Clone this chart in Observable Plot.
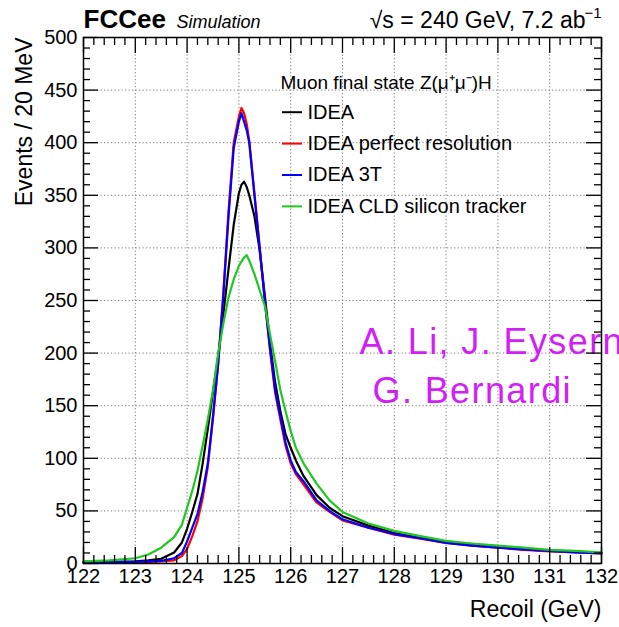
<!DOCTYPE html>
<html><head><meta charset="utf-8">
<script src="https://cdn.jsdelivr.net/npm/d3@7"></script>
<script src="https://cdn.jsdelivr.net/npm/@observablehq/plot@0.6"></script>
<style>
html,body{margin:0;padding:0;background:#fff;overflow:hidden;}
</style></head><body><div id="chart"></div>
<script>
// Recoil mass (GeV) sample points
const recoil = [122.0, 122.5, 123.0, 123.25, 123.5, 123.75, 123.9, 124.0, 124.1, 124.2, 124.3, 124.4, 124.5, 124.6, 124.7, 124.8, 124.9, 125.0, 125.05, 125.1, 125.15, 125.2, 125.3, 125.4, 125.5, 125.6, 125.7, 125.8, 125.9, 126.0, 126.1, 126.25, 126.5, 126.75, 127.0, 127.5, 128.0, 128.5, 129.0, 129.5, 130.0, 130.5, 131.0, 131.5, 132.0];
// Events / 20 MeV
const idea = [1.5, 1.5, 2, 3, 4.5, 10.5, 20, 33, 49, 66, 95, 128, 163, 197, 237, 280, 322, 352, 360, 363, 358, 350, 330, 298, 255, 210, 172, 145, 123, 110, 98, 83, 65, 53, 45, 36, 29, 24.5, 20, 17.5, 15.5, 13.5, 12, 11, 10];
const ideaPerfect = [0.5, 0.5, 1, 1.5, 2, 3, 7, 14, 26, 40, 62, 92, 138, 190, 258, 335, 400, 425, 433, 428, 418, 402, 352, 302, 250, 203, 162, 137, 112, 95, 85, 75, 58, 49, 41, 34, 27.5, 23.5, 19.5, 17, 15, 13, 11.5, 10.5, 9.5];
const idea3T = [1, 1, 1.5, 2, 2.5, 5, 10, 21, 34, 47, 68, 95, 140, 190, 255, 330, 395, 420, 428, 420, 412, 400, 350, 300, 250, 205, 165, 140, 115, 98, 87, 78, 60, 50, 42, 34, 28, 24, 19.5, 17, 15, 13.5, 12, 10.5, 9.5];
const ideaCLD = [2, 3, 5, 8.5, 15, 25, 37, 53, 69, 88, 112, 137, 165, 200, 228, 253, 270, 283, 287, 291, 293, 288, 275, 260, 245, 218, 192, 165, 145, 126, 110, 95, 76, 60, 49, 38, 31, 26, 21.5, 19, 17, 15, 13, 12, 10.5];

const seriesNames = ["IDEA", "IDEA perfect resolution", "IDEA 3T", "IDEA CLD silicon tracker"];
const seriesValues = [idea, ideaPerfect, idea3T, ideaCLD];
const seriesColors = ["#000000", "#ff0000", "#0000ff", "#1ec81e"];

const xTickLabels = [122, 123, 124, 125, 126, 127, 128, 129, 130, 131, 132];
const yTickLabels = [0, 50, 100, 150, 200, 250, 300, 350, 400, 450, 500];
const legendHeader = "Muon final state Z(μ⁺μ⁻)H";
const credits = ["A. Li, J. Eysern", "G. Bernardi"];

// layout
const W = 619, H = 627, mL = 83, mR = 18, mT = 37, mB = 64;
const fw = W - mL - mR, fh = H - mT - mB;
const xDom = [122, 132], yDom = [0, 500];

const xMinor = d3.range(122, 132.0001, 0.2).map(v => +v.toFixed(2)).filter(v => Math.abs(v - Math.round(v)) > 1e-6);
const yMinor = d3.range(0, 501, 10).filter(v => v % 50 !== 0);

const rows = (i) => recoil.map((x, j) => ({x, y: seriesValues[i][j]}));

const gridStyle = {stroke: "#777", strokeWidth: 1, strokeDasharray: "1.2,2.3"};
const tickStyle = {stroke: "black", strokeWidth: 1.3};
// inward ticks on all four sides (pixel lengths via insets)
const xTicks = (vals, len) => [
  Plot.ruleX(vals, {x: d => d, insetTop: fh - len, ...tickStyle}),
  Plot.ruleX(vals, {x: d => d, insetBottom: fh - len, ...tickStyle})
];
const yTicks = (vals, len) => [
  Plot.ruleY(vals, {y: d => d, insetRight: fw - len, ...tickStyle}),
  Plot.ruleY(vals, {y: d => d, insetLeft: fw - len, ...tickStyle})
];

const marks = [
  Plot.ruleX(xTickLabels.slice(1, -1), {x: d => d, ...gridStyle}),
  Plot.ruleY(yTickLabels.slice(1, -1), {y: d => d, ...gridStyle}),
];
for (let i = 0; i < 4; i++) {
  marks.push(Plot.line(rows(i), {x: "x", y: "y", stroke: seriesColors[i], strokeWidth: 2.2}));
}
marks.push(
  Plot.axisX(xTickLabels, {anchor: "bottom", tickSize: 0, tickPadding: 5, fontSize: 20, label: null, tickFormat: d => String(d), fill: "black"}),
  Plot.axisY(yTickLabels, {anchor: "left", tickSize: 0, tickPadding: 6, fontSize: 20, label: null, tickFormat: d => String(d), fill: "black"}),
  // titles
  Plot.text(["FCCee"], {frameAnchor: "top-left", dy: -10, textAnchor: "start", lineAnchor: "bottom", fontSize: 26, fontWeight: "bold", fill: "black"}),
  Plot.text(["Simulation"], {frameAnchor: "top-left", dx: 93, dy: -10, textAnchor: "start", lineAnchor: "bottom", fontSize: 18, fontStyle: "italic", fill: "black"}),
  Plot.text(["√s = 240 GeV, 7.2 ab"], {frameAnchor: "top-right", dx: -16, dy: -10, textAnchor: "end", lineAnchor: "bottom", fontSize: 23, fill: "black"}),
  Plot.text(["−1"], {frameAnchor: "top-right", dx: 0, dy: -20, textAnchor: "end", lineAnchor: "bottom", fontSize: 15, fill: "black"}),
  Plot.text(["Events / 20 MeV"], {frameAnchor: "top-left", dx: -59, dy: 0, rotate: -90, textAnchor: "end", lineAnchor: "middle", fontSize: 23, fill: "black"}),
  Plot.text(["Recoil (GeV)"], {frameAnchor: "bottom-right", dy: 53, textAnchor: "end", lineAnchor: "bottom", fontSize: 23, fill: "black"}),
  // legend
  Plot.text([legendHeader], {frameAnchor: "top-left", dx: 197, dy: 45, textAnchor: "start", lineAnchor: "middle", fontSize: 19, fill: "black"})
);
for (let i = 0; i < 4; i++) {
  const cy = 111.7 + i * 31.4;
  marks.push(
    Plot.ruleY([0], {y: d => d, dy: cy - (H - mB), insetLeft: 199, insetRight: fw - 219, stroke: seriesColors[i], strokeWidth: 2}),
    Plot.text([seriesNames[i]], {frameAnchor: "top-left", dx: 224, dy: cy - mT, textAnchor: "start", lineAnchor: "middle", fontSize: 20, fill: "black"})
  );
}
marks.push(
  Plot.text([credits[0]], {frameAnchor: "top-left", dx: 276, dy: 316, textAnchor: "start", lineAnchor: "bottom", fontSize: 36, fill: "#d21ef7"}),
  Plot.text([credits[1]], {frameAnchor: "top-left", dx: 289, dy: 365, textAnchor: "start", lineAnchor: "bottom", fontSize: 36, fill: "#d21ef7"}),
  // frame and ticks drawn last
  Plot.frame({stroke: "black", strokeWidth: 1.5}),
  ...xTicks(xTickLabels, 16), ...xTicks(xMinor, 8),
  ...yTicks(yTickLabels, 15), ...yTicks(yMinor, 7)
);

const chart = Plot.plot({
  width: W, height: H,
  marginLeft: mL, marginRight: mR, marginTop: mT, marginBottom: mB,
  x: {domain: xDom, axis: null},
  y: {domain: yDom, axis: null},
  style: {fontFamily: "'Liberation Sans', Arial, Helvetica, sans-serif"},
  marks
});
document.getElementById("chart").appendChild(chart);
// widen the credit text to match the reference's glyph spacing
d3.select(chart).selectAll("text")
  .filter(function () { return credits.includes(this.textContent); })
  .style("letter-spacing", "1.4px");
</script></body></html>
